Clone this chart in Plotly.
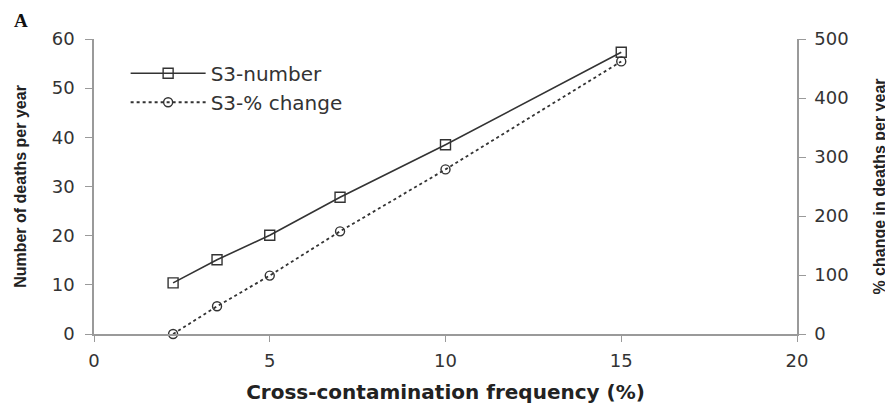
import plotly.graph_objects as go

x_freq = [2.25, 3.5, 5, 7, 10, 15]
deaths_number = [10.4, 15.1, 20.1, 27.8, 38.5, 57.3]
pct_change = [0, 47, 99, 174, 279, 462]

left_ticks = [0, 10, 20, 30, 40, 50, 60]
right_ticks = [0, 100, 200, 300, 400, 500]
x_ticks = [0, 5, 10, 15, 20]

axis_gray = "#9a9a9a"
ink = "#333333"
tick_font = dict(family="DejaVu Sans", size=18, color="#333333")

fig = go.Figure()
fig.add_trace(go.Scatter(
    x=x_freq, y=deaths_number, name="S3-number", mode="lines+markers",
    line=dict(color=ink, width=1.6),
    marker=dict(symbol="square-open", size=10, color=ink, line=dict(width=1.4)),
    cliponaxis=False,
))
fig.add_trace(go.Scatter(
    x=x_freq, y=pct_change, name="S3-% change", mode="lines+markers", yaxis="y2",
    line=dict(color=ink, width=1.8, dash="dot"),
    marker=dict(symbol="circle-open", size=9, color=ink, line=dict(width=1.4)),
    cliponaxis=False,
))

fig.update_layout(
    width=893, height=406,
    margin=dict(l=86, r=104, t=31, b=80, autoexpand=False),
    paper_bgcolor="white", plot_bgcolor="white",
    showlegend=True,
    legend=dict(
        x=0.045, y=0.95, xanchor="left", yanchor="top",
        bgcolor="rgba(0,0,0,0)", itemwidth=75,
        font=dict(family="DejaVu Sans", size=20, color="#333333"),
        tracegroupgap=0,
    ),
    xaxis=dict(
        range=[0, 20], tickvals=x_ticks, showgrid=False, zeroline=False,
        showline=True, linecolor=axis_gray, linewidth=1.5,
        ticks="outside", ticklen=6, tickcolor=axis_gray, ticklabelstandoff=4,
        tickfont=tick_font,
        title=dict(text="<b>Cross-contamination frequency (%)</b>",
                   font=dict(family="DejaVu Sans", size=20, color="#222222"), standoff=15),
    ),
    yaxis=dict(
        range=[0, 60], tickvals=left_ticks, showgrid=False, zeroline=False,
        showline=True, linecolor=axis_gray, linewidth=1.5,
        ticks="outside", ticklen=7, tickcolor=axis_gray, ticklabelstandoff=7,
        tickfont=tick_font,
        title=dict(text="<b>Number of deaths per year</b>",
                   font=dict(family="Liberation Sans", size=16, color="#222222"), standoff=21),
    ),
    yaxis2=dict(
        range=[0, 500], tickvals=right_ticks, overlaying="y", side="right",
        showgrid=False, zeroline=False,
        showline=True, linecolor=axis_gray, linewidth=1.5,
        ticks="outside", ticklen=7, tickcolor=axis_gray, ticklabelstandoff=5,
        tickfont=tick_font,
        title=dict(text="<b>% change in deaths per year</b>",
                   font=dict(family="Liberation Sans", size=16, color="#222222"), standoff=26),
    ),
    annotations=[dict(
        text="<b>A</b>", xref="paper", yref="paper", x=-0.1166, y=1.064,
        xanchor="left", yanchor="middle", showarrow=False,
        font=dict(family="Liberation Serif", size=19, color="#111111"),
    )],
)

fig.write_html("out.html")
